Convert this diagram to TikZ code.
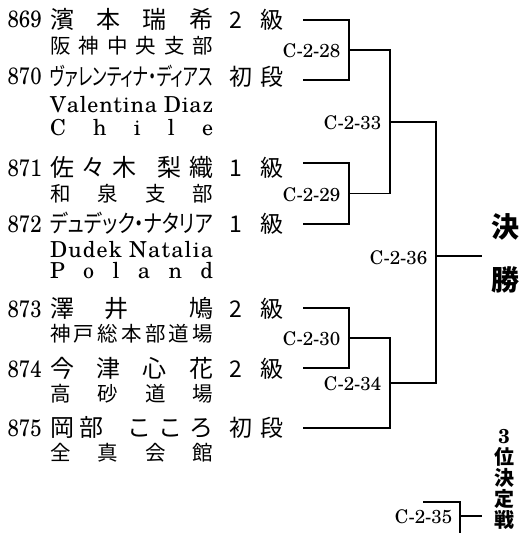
\documentclass[tikz,border=0pt]{standalone}
\usepackage{fontspec}
\usepackage{graphicx}
\setmainfont{texgyreschola-regular.otf}[BoldFont=texgyreschola-bold.otf]
\newfontfamily\jp{Noto Sans CJK JP}
\newfontfamily\jpp{Noto Sans CJK JP}[RawFeature=+palt]
\newcommand\spreadbox[1]{\makebox[163pt][s]{#1}}
\newcommand\gradebox[2]{\makebox[54pt][s]{#1\hfill #2}}
\newcommand\numtext[1]{\scalebox{0.95}[1.1]{#1}}
\begin{document}
\begin{tikzpicture}[x=1pt,y=-1pt,line width=1.2pt,
  num/.style={anchor=base west,inner sep=0,font=\fontsize{21.5}{22}\selectfont},
  nm/.style={anchor=base west,inner sep=0,font=\jp\fontsize{24}{25}\selectfont},
  sub/.style={anchor=base west,inner sep=0,font=\jp\fontsize{20.5}{22}\selectfont},
  lat/.style={anchor=base west,inner sep=0,font=\fontsize{22}{24}\selectfont},
  grd/.style={anchor=base west,inner sep=0,font=\jp\fontsize{23}{24}\selectfont},
  lbl/.style={anchor=east,inner sep=0,font=\fontsize{18.8}{20}\selectfont},
  big/.style={inner sep=0,font=\jp\bfseries\fontsize{28}{29}\selectfont}]
\useasboundingbox (0,0) rectangle (521,533);
% 869
\node[num] (n869) at (7,27.5) {\numtext{869}};
\node[nm] (a869) at (49.5,28) {\spreadbox{濱\hfill 本\hfill 瑞\hfill 希}};
\node[grd] (g869) at (229,28) {\gradebox{\makebox[13pt][l]{2}}{級}};
\node[sub] (c869) at (49.5,53) {\spreadbox{阪\hfill 神\hfill 中\hfill 央\hfill 支\hfill 部}};
% 870
\node[num] (n870) at (7,84.5) {\numtext{870}};
\node[nm] (a870) at (49.5,85) {\resizebox{163pt}{\height}{\jpp ヴァレンティナ・ディアス}};
\node[grd] (g870) at (229,85) {\gradebox{初}{段}};
\node[lat] (l870) at (49.5,112) {\spreadbox{V\hfil a\hfil l\hfil e\hfil n\hfil t\hfil i\hfil n\hfil a\ \hfil D\hfil i\hfil a\hfil z}};
\node[lat] (k870) at (49.5,135) {\spreadbox{C\hfill h\hfill i\hfill l\hfill e}};
% 871
\node[num] (n871) at (7,176) {\numtext{871}};
\node[nm] (a871) at (49.5,176.5) {\spreadbox{佐\hfill 々\hfill 木\hfill\hfill\hfill 梨\hfill 織}};
\node[grd] (g871) at (229,176.5) {\gradebox{\makebox[13pt][l]{1}}{級}};
\node[sub] (c871) at (49.5,201) {\spreadbox{和\hfill 泉\hfill 支\hfill 部}};
% 872
\node[num] (n872) at (7,232) {\numtext{872}};
\node[nm] (a872) at (49.5,232.5) {\resizebox{163pt}{\height}{\jpp デュデック・ナタリア}};
\node[grd] (g872) at (229,232.5) {\gradebox{\makebox[13pt][l]{1}}{級}};
\node[lat] (l872) at (49.5,257) {\spreadbox{D\hfil u\hfil d\hfil e\hfil k\ \hfil N\hfil a\hfil t\hfil a\hfil l\hfil i\hfil a}};
\node[lat] (k872) at (49.5,278) {\spreadbox{P\hfill o\hfill l\hfill a\hfill n\hfill d}};
% 873
\node[num] (n873) at (7,317) {\numtext{873}};
\node[nm] (a873) at (49.5,317.5) {\spreadbox{澤\hfill 井\hfill\hfill 鳩}};
\node[grd] (g873) at (229,317.5) {\gradebox{\makebox[13pt][l]{2}}{級}};
\node[sub] (c873) at (49.5,341) {\spreadbox{神\hfill 戸\hfill 総\hfill 本\hfill 部\hfill 道\hfill 場}};
% 874
\node[num] (n874) at (7,377) {\numtext{874}};
\node[nm] (a874) at (49.5,377.5) {\spreadbox{今\hfill 津\hfill 心\hfill 花}};
\node[grd] (g874) at (229,377.5) {\gradebox{\makebox[13pt][l]{2}}{級}};
\node[sub] (c874) at (49.5,401) {\spreadbox{高\hfill 砂\hfill 道\hfill 場}};
% 875
\node[num] (n875) at (7,436) {\numtext{875}};
\node[nm] (a875) at (49.5,436.5) {\spreadbox{岡\kern5pt 部\hfill こ\kern7pt こ\kern7pt ろ}};
\node[grd] (g875) at (229,436.5) {\gradebox{初}{段}};
\node[sub] (c875) at (49.5,460) {\spreadbox{全\hfill 真\hfill 会\hfill 館}};
% bracket points
\coordinate (e869) at (303,20);
\coordinate (e870) at (303,80);
\coordinate (e871) at (303,163);
\coordinate (e872) at (303,224);
\coordinate (e873) at (303,308);
\coordinate (e874) at (303,368);
\coordinate (e875) at (303,428);
\coordinate (m28) at (349,50);
\coordinate (m29) at (349,193.5);
\coordinate (m30) at (349,338);
\coordinate (m33) at (390,122);
\coordinate (m34) at (390,383);
\coordinate (m36) at (436,256);
\coordinate (fin) at (482,256);
\draw (e869) -| (m28) |- (e870);
\draw (e871) -| (m29) |- (e872);
\draw (e873) -| (m30) |- (e874);
\draw (m28) -| (m33) |- (m29);
\draw (m30) -| (m34) |- (e875);
\draw (m33) -| (m36) |- (m34);
\draw (m36) -- (fin);
% match labels
\node[lbl] (c28) at (341,51) {C-2-28};
\node[lbl] (c29) at (341,194.5) {C-2-29};
\node[lbl] (c30) at (341,339) {C-2-30};
\node[lbl] (c33) at (382,123) {C-2-33};
\node[lbl] (c34) at (382,384) {C-2-34};
\node[lbl] (c36) at (428,257.5) {C-2-36};
% final
\node[big] (ke) at (505,227) {決};
\node[big] (sho) at (505,280) {勝};
% third place
\coordinate (t35) at (423,502);
\coordinate (m35) at (460,516);
\coordinate (b35) at (460,534);
\coordinate (f35) at (482,516);
\draw (t35) -| (b35);
\draw (m35) -- (f35);
\node[lbl] (c35) at (453,517) {C-2-35};
\node[anchor=north,inner sep=0,align=center,font=\jp\bfseries\fontsize{20}{21}\selectfont] (third) at (504,429) {{\rmfamily\bfseries 3}\\位\\決\\定\\戦};
\end{tikzpicture}
\end{document}
